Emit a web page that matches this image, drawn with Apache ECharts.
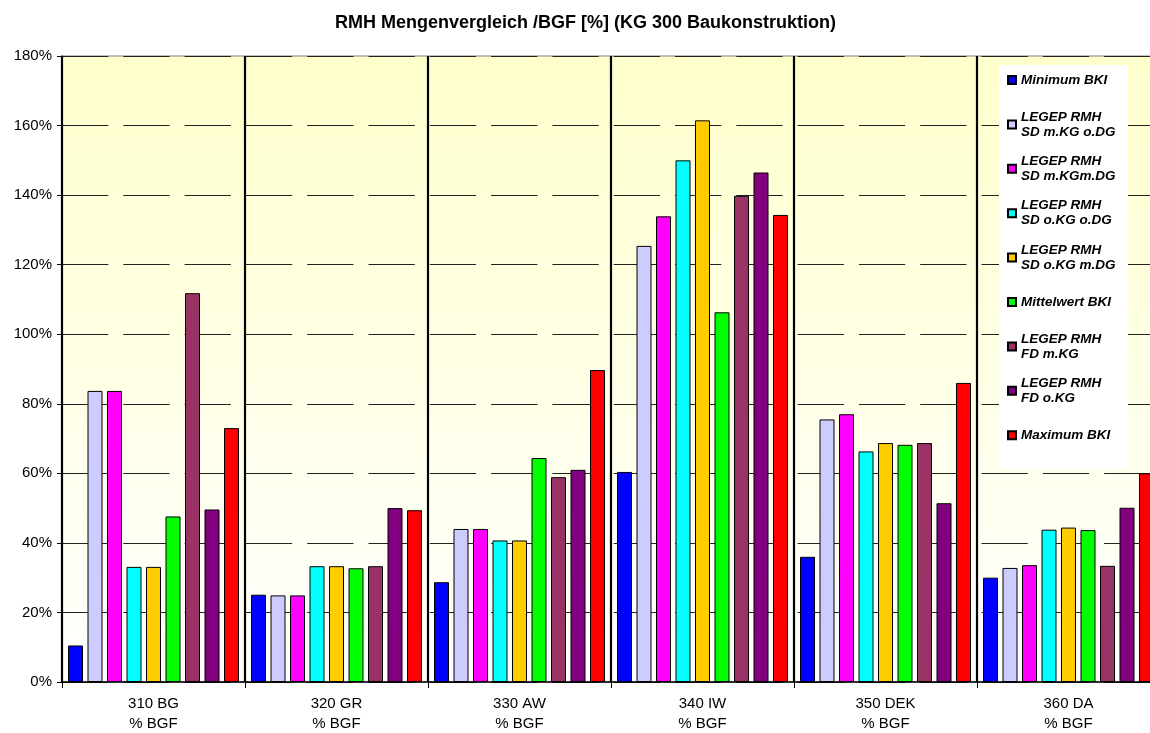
<!DOCTYPE html>
<html>
<head>
<meta charset="utf-8">
<script src="https://cdn.jsdelivr.net/npm/echarts@6/dist/echarts.min.js"></script>
<style>html,body{margin:0;padding:0;background:#fff}#c{width:1150px;height:733px}</style>
</head>
<body>
<div id="c"></div>
<script>
const categories = ['310 BG\n% BGF', '320 GR\n% BGF', '330 AW\n% BGF', '340 IW\n% BGF', '350 DEK\n% BGF', '360 DA\n% BGF'];
const seriesNames = ['Minimum BKI', 'LEGEP RMH\nSD m.KG o.DG', 'LEGEP RMH\nSD m.KGm.DG', 'LEGEP RMH\nSD o.KG o.DG', 'LEGEP RMH\nSD o.KG m.DG', 'Mittelwert BKI', 'LEGEP RMH\nFD m.KG', 'LEGEP RMH\nFD o.KG', 'Maximum BKI'];
const seriesColors = ['#0000FF', '#CCCCFF', '#FF00FF', '#00FFFF', '#FFCC00', '#00FF00', '#993366', '#800080', '#FF0000'];
const minimumBKI = [10.5, 25.1, 28.7, 60.4, 36.0, 30.0];
const sdMKGoDG = [83.7, 24.9, 44.0, 125.4, 75.5, 32.8];
const sdMKGmDG = [83.7, 24.9, 44.0, 133.9, 77.0, 33.6];
const sdOKGoDG = [33.1, 33.3, 40.7, 150.0, 66.3, 43.8];
const sdOKGmDG = [33.1, 33.3, 40.7, 161.5, 68.7, 44.4];
const mittelwertBKI = [47.6, 32.7, 64.4, 106.3, 68.2, 43.7];
const fdMKG = [111.8, 33.3, 58.9, 139.8, 68.7, 33.4];
const fdOKG = [49.6, 50.0, 61.0, 146.5, 51.4, 50.1];
const maximumBKI = [73.0, 49.4, 89.7, 134.3, 86.0, 60.0];
const yTicks = { min: 0, max: 180, interval: 20 };

const seriesValues = [minimumBKI, sdMKGoDG, sdMKGmDG, sdOKGoDG, sdOKGmDG, mittelwertBKI, fdMKG, fdOKG, maximumBKI];
const FONT = '"Liberation Sans", Arial, sans-serif';

const chart = echarts.init(document.getElementById('c'), null, { renderer: 'canvas' });
chart.setOption({
  backgroundColor: '#ffffff',
  animation: false,
  title: {
    text: 'RMH Mengenvergleich /BGF [%] (KG 300 Baukonstruktion)',
    left: 335, top: 14, padding: 0,
    textStyle: { fontFamily: FONT, fontSize: 18, fontWeight: 'bold', color: '#000' }
  },
  grid: {
    left: 62, top: 56, width: 1098, bottom: 51,
    outerBoundsMode: 'none',
    containLabel: false,
    show: true,
    backgroundColor: new echarts.graphic.LinearGradient(0, 0, 0, 1, [
      { offset: 0, color: '#FFFFCC' }, { offset: 1, color: '#FFFFFF' }
    ]),
    borderColor: '#808080', borderWidth: 1
  },
  graphic: [{
    type: 'rect', z: 3,
    shape: { x: 999, y: 65, width: 129, height: 404 },
    style: { fill: '#FFFFFF' }
  }],
  legend: {
    orient: 'vertical', left: 1007, top: 58, padding: 0, z: 5,
    itemWidth: 8, itemHeight: 8, itemGap: 0.4, icon: 'rect',
    selectedMode: false,
    textStyle: {
      fontFamily: FONT, fontSize: 13.5, fontWeight: 'bold', fontStyle: 'italic',
      color: '#000', lineHeight: 15, backgroundColor: 'rgba(0,0,0,0)'
    },
    data: seriesNames.map(n => ({
      name: n,
      textStyle: { padding: n.indexOf('\n') >= 0 ? [14, 0, 0, 0] : [14, 0, 15, 0] }
    }))
  },
  xAxis: {
    type: 'category', data: categories,
    axisLine: { lineStyle: { color: '#000', width: 1.5 } },
    axisTick: { show: true, interval: 0, length: 6, lineStyle: { color: '#000' } },
    axisLabel: { interval: 0, margin: 12, fontFamily: FONT, fontSize: 15, color: '#000', lineHeight: 20 },
    splitLine: { show: true, interval: 0, lineStyle: { color: '#000', width: 2.2 } }
  },
  yAxis: {
    type: 'value', min: yTicks.min, max: yTicks.max, interval: yTicks.interval,
    axisLine: { show: true, lineStyle: { color: '#000', width: 1.5 } },
    axisTick: { show: true, length: 5, lineStyle: { color: '#000' } },
    axisLabel: { formatter: '{value}%', margin: 10, fontFamily: FONT, fontSize: 15, color: '#000' },
    splitLine: { show: true, lineStyle: { color: '#222', width: 1, type: [46.3, 15] } }
  },
  series: seriesNames.map((n, i) => ({
    name: n, type: 'bar', data: seriesValues[i],
    barWidth: 15, barGap: '30%',
    itemStyle: { color: seriesColors[i], borderColor: '#000', borderWidth: 1 }
  }))
});
</script>
</body>
</html>
